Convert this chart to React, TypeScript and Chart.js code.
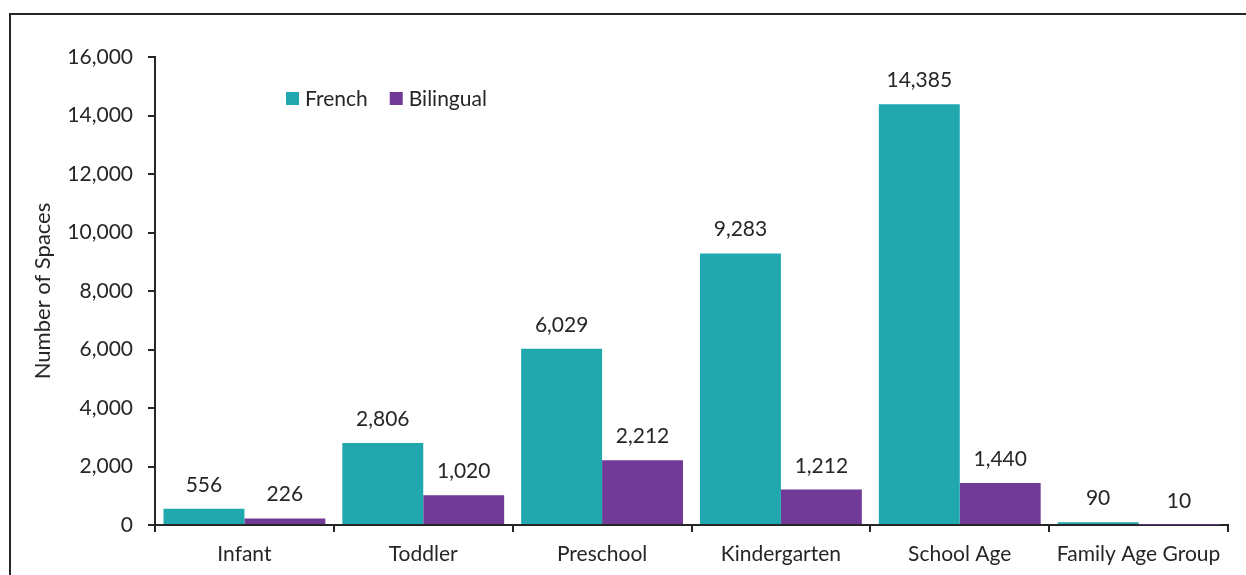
import React, { useEffect, useRef } from "react";
import { Chart, registerables } from "chart.js";

Chart.register(...registerables);

const categories = ["Infant", "Toddler", "Preschool", "Kindergarten", "School Age", "Family Age Group"];
const seriesNames = ["French", "Bilingual"];
const frenchValues = [556, 2806, 6029, 9283, 14385, 90];
const bilingualValues = [226, 1020, 2212, 1212, 1440, 10];
const yMin = 0;
const yMax = 16000;
const yStep = 2000;
const yTitle = "Number of Spaces";

const TEAL = "#21A7AE";
const PURPLE = "#703A96";
const INK = "#262626";
const FONT = "Lato, 'Open Sans', sans-serif";

const fmt = (v: number) => v.toLocaleString("en-US");

const dataLabelPlugin = {
  id: "dataLabels",
  afterDatasetsDraw(chart: any) {
    const ctx = chart.ctx;
    ctx.save();
    ctx.font = `21px ${FONT}`;
    ctx.fillStyle = INK;
    ctx.textAlign = "center";
    ctx.textBaseline = "alphabetic";
    chart.data.datasets.forEach((ds: any, i: number) => {
      const meta = chart.getDatasetMeta(i);
      meta.data.forEach((el: any, j: number) => {
        ctx.fillText(fmt(ds.data[j]), el.x, el.y - 17);
      });
    });
    ctx.restore();
  },
};

const legendPlugin = {
  id: "customLegend",
  afterDraw(chart: any) {
    const ctx = chart.ctx;
    ctx.save();
    ctx.font = `21px ${FONT}`;
    ctx.textBaseline = "alphabetic";
    ctx.textAlign = "left";
    let x = 286;
    const baseY = 105.5;
    chart.data.datasets.forEach((ds: any) => {
      ctx.fillStyle = ds.backgroundColor;
      ctx.fillRect(x, 92, 13, 13);
      ctx.fillStyle = INK;
      ctx.fillText(ds.label, x + 19, baseY);
      x += 19 + ctx.measureText(ds.label).width + 22;
    });
    ctx.restore();
  },
};

export default function App() {
  const ref = useRef<HTMLCanvasElement | null>(null);

  useEffect(() => {
    document.body.style.margin = "0";
    const canvas = ref.current;
    if (!canvas) return;
    const chart = new Chart(canvas, {
      type: "bar",
      data: {
        labels: categories,
        datasets: [
          { label: seriesNames[0], data: frenchValues, backgroundColor: TEAL },
          { label: seriesNames[1], data: bilingualValues, backgroundColor: PURPLE },
        ],
      },
      options: {
        animation: false,
        responsive: false,
        maintainAspectRatio: false,
        layout: { padding: { left: 10, top: 57, right: 18, bottom: 0 } },
        plugins: {
          legend: { display: false },
          tooltip: { enabled: false },
        },
        datasets: {
          bar: { categoryPercentage: 0.905, barPercentage: 1 },
        },
        scales: {
          x: {
            offset: true,
            grid: {
              offset: true,
              drawOnChartArea: false,
              drawTicks: true,
              tickLength: 7,
              color: INK,
              lineWidth: 2,
            },
            border: { display: true, color: INK, width: 2 },
            ticks: {
              color: INK,
              font: { family: FONT, size: 21 },
              padding: 10,
              maxRotation: 0,
              autoSkip: false,
            },
            afterFit(scale: any) {
              scale.height = 50;
            },
          },
          y: {
            min: yMin,
            max: yMax,
            grid: {
              drawOnChartArea: false,
              drawTicks: true,
              tickLength: 7,
              color: INK,
              lineWidth: 2,
            },
            border: { display: true, color: INK, width: 2 },
            ticks: {
              stepSize: yStep,
              color: INK,
              font: { family: FONT, size: 21 },
              padding: 15,
              callback: (v: any) => fmt(Number(v)),
            },
            title: {
              display: true,
              text: yTitle,
              color: INK,
              font: { family: FONT, size: 22 },
              padding: { top: 20, bottom: 0 },
            },
            afterFit(scale: any) {
              scale.width = 145;
            },
          },
        },
      },
      plugins: [dataLabelPlugin, legendPlugin],
    } as any);
    return () => chart.destroy();
  }, []);

  return (
    <div style={{ position: "absolute", left: 0, top: 0, width: 1246, height: 575, background: "#fff" }}>
      <div
        style={{
          position: "absolute",
          left: 9,
          top: 13,
          right: 0,
          bottom: 0,
          borderLeft: `2px solid ${INK}`,
          borderTop: `2px solid ${INK}`,
        }}
      />
      <canvas ref={ref} width={1246} height={575} style={{ position: "absolute", left: 0, top: 0, width: 1246, height: 575 }} />
    </div>
  );
}
